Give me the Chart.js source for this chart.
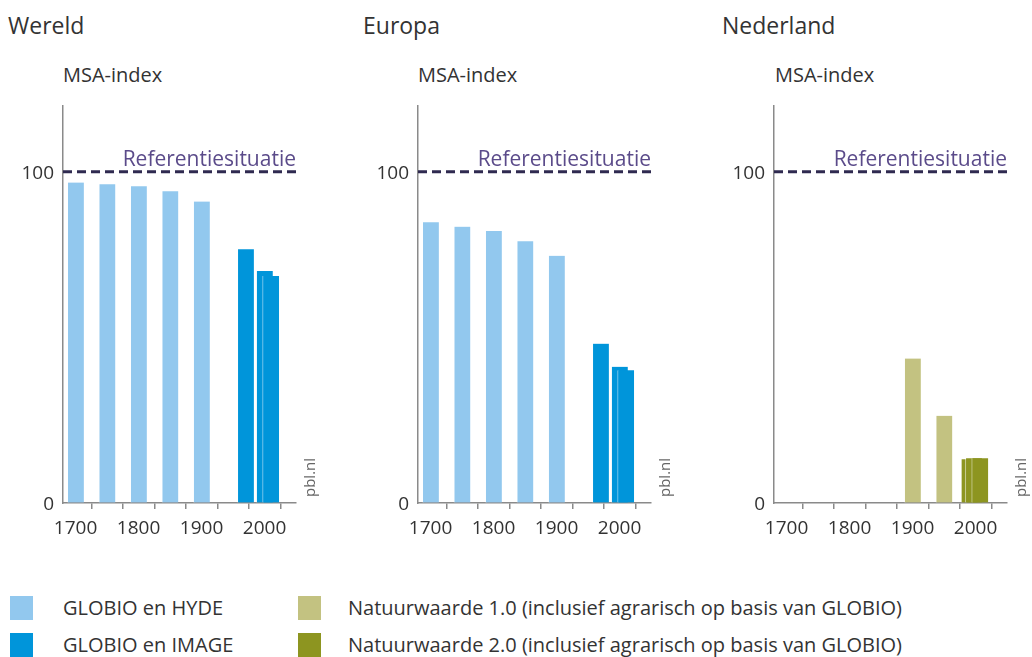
<!DOCTYPE html>
<html>
<head>
<meta charset="utf-8">
<script src="https://cdn.jsdelivr.net/npm/chart.js@4/dist/chart.umd.min.js"></script>
<style>
  body { margin: 0; background: #fff; font-family: "Open Sans", sans-serif; color: #333; }
  #wrap { position: relative; width: 1032px; height: 657px; overflow: hidden; }
  .panel { position: absolute; top: 85px; width: 321px; height: 470px; }
  .panel canvas { display: block; }
  .title { position: absolute; top: 9px; font-size: 23px; color: #333; }
  .unit { position: absolute; top: 61px; font-size: 20px; color: #333; }
  .sw { position: absolute; width: 23px; height: 24px; }
  .lt { position: absolute; font-size: 20px; color: #333; line-height: 24px; }
</style>
</head>
<body>
<div id="wrap">
  <div class="title" style="left:8px">Wereld</div>
  <div class="title" style="left:363px">Europa</div>
  <div class="title" style="left:722px">Nederland</div>
  <div class="unit" style="left:63px">MSA-index</div>
  <div class="unit" style="left:418px">MSA-index</div>
  <div class="unit" style="left:775px">MSA-index</div>

  <div class="panel" style="left:0px"><canvas id="wereld"></canvas></div>
  <div class="panel" style="left:355px"><canvas id="europa"></canvas></div>
  <div class="panel" style="left:711px"><canvas id="nederland"></canvas></div>

  <div class="sw" style="left:10px;top:596px;background:#92c8ee"></div>
  <div class="lt" style="left:63px;top:596px">GLOBIO en HYDE</div>
  <div class="sw" style="left:10px;top:633px;background:#0095da"></div>
  <div class="lt" style="left:63px;top:633px">GLOBIO en IMAGE</div>
  <div class="sw" style="left:298px;top:596px;background:#c3c281"></div>
  <div class="lt" style="left:348px;top:596px">Natuurwaarde 1.0 (inclusief agrarisch op basis van GLOBIO)</div>
  <div class="sw" style="left:298px;top:633px;background:#8d9520"></div>
  <div class="lt" style="left:348px;top:633px">Natuurwaarde 2.0 (inclusief agrarisch op basis van GLOBIO)</div>
</div>

<script>
// MSA-index per periode
const hydeYears = [1700, 1750, 1800, 1850, 1900];
const wereldHyde = [96.7, 96.2, 95.6, 94.1, 91.0];
const europaHyde = [84.7, 83.4, 82.1, 79.0, 74.6];

const imageYears = [1970, 2000, 2010];
const wereldImage = [76.6, 70.0, 68.5];
const europaImage = [48.1, 41.1, 40.1];

const nat1Years = [1900, 1950];
const nederlandNat1 = [43.6, 26.3];
const nat2Years = [1990, 1997, 2007];
const nederlandNat2 = [13.2, 13.5, 13.5];

const xTicks = [1700, 1750, 1800, 1850, 1900, 1950, 2000, 2050];
const xLabelled = [1700, 1800, 1900, 2000];
const yTicks = [0, 100];
const referenceValue = 100;
const referenceLabel = 'Referentiesituatie';

const FONT = '"Open Sans", sans-serif';

function points(xs, ys) {
  return xs.map((x, i) => ({ x: x, y: ys[i] }));
}

function barSet(xs, ys, color) {
  return {
    type: 'bar',
    data: points(xs, ys),
    backgroundColor: color,
    borderColor: 'rgba(255,255,255,0.55)',
    borderWidth: { left: 1, top: 0, right: 0, bottom: 0 },
    borderSkipped: false,
    barThickness: 16.5,
    grouped: false,
    order: 2
  };
}

const extraText = {
  id: 'extraText',
  afterDraw(chart) {
    const ctx = chart.ctx;
    const area = chart.chartArea;
    const yRef = chart.scales.y.getPixelForValue(referenceValue);
    ctx.save();
    ctx.font = '21px ' + FONT;
    ctx.fillStyle = '#5b4b8a';
    ctx.textAlign = 'right';
    ctx.textBaseline = 'alphabetic';
    ctx.fillText(referenceLabel, area.right, yRef - 6);

    ctx.translate(area.right + 19, area.bottom - 6);
    ctx.rotate(-Math.PI / 2);
    ctx.font = '15px ' + FONT;
    ctx.fillStyle = '#666';
    ctx.textAlign = 'left';
    ctx.textBaseline = 'alphabetic';
    ctx.fillText('pbl.nl', 0, 0);
    ctx.restore();
  }
};

function makeChart(id, bars) {
  const datasets = bars.concat([{
    type: 'line',
    data: [{ x: 1680, y: referenceValue }, { x: 2050, y: referenceValue }],
    borderColor: '#2f2a50',
    borderWidth: 3,
    borderDash: [9, 5],
    pointRadius: 0,
    order: 1
  }]);

  return new Chart(document.getElementById(id).getContext('2d'), {
    type: 'bar',
    data: { datasets: datasets },
    options: {
      responsive: false,
      animation: false,
      layout: { autoPadding: false, padding: { top: 10, right: 25, left: 0, bottom: 0 } },
      plugins: { legend: { display: false }, tooltip: { enabled: false } },
      scales: {
        x: {
          type: 'linear',
          min: 1680,
          max: 2050,
          offset: false,
          afterBuildTicks: (s) => { s.ticks = xTicks.map(v => ({ value: v })); },
          afterFit: (s) => { s.height = 52; },
          grid: { drawOnChartArea: false, tickLength: 6, color: '#8a8a8a', lineWidth: 1.5 },
          border: { color: '#8a8a8a', width: 1.5 },
          ticks: {
            autoSkip: false,
            maxRotation: 0,
            padding: 8,
            color: '#333',
            font: { family: FONT, size: 19 },
            callback: (v) => xLabelled.includes(v) ? String(v) : ''
          }
        },
        y: {
          min: 0,
          max: 120,
          afterBuildTicks: (s) => { s.ticks = yTicks.map(v => ({ value: v })); },
          afterFit: (s) => { s.width = 63; },
          grid: { drawOnChartArea: false, drawTicks: false },
          border: { color: '#8a8a8a', width: 1.5 },
          ticks: {
            padding: 9,
            color: '#333',
            labelOffset: 2,
            font: { family: FONT, size: 19 }
          }
        }
      }
    },
    plugins: [extraText]
  });
}

function sizeCanvas(id) {
  const c = document.getElementById(id);
  c.width = 321;
  c.height = 470;
  c.style.width = '321px';
  c.style.height = '470px';
}
['wereld', 'europa', 'nederland'].forEach(sizeCanvas);

makeChart('wereld', [
  barSet(hydeYears, wereldHyde, '#92c8ee'),
  barSet(imageYears, wereldImage, '#0095da')
]);
makeChart('europa', [
  barSet(hydeYears, europaHyde, '#92c8ee'),
  barSet(imageYears, europaImage, '#0095da')
]);
makeChart('nederland', [
  barSet(nat1Years, nederlandNat1, '#c3c281'),
  barSet(nat2Years, nederlandNat2, '#8d9520')
]);
</script>
</body>
</html>
